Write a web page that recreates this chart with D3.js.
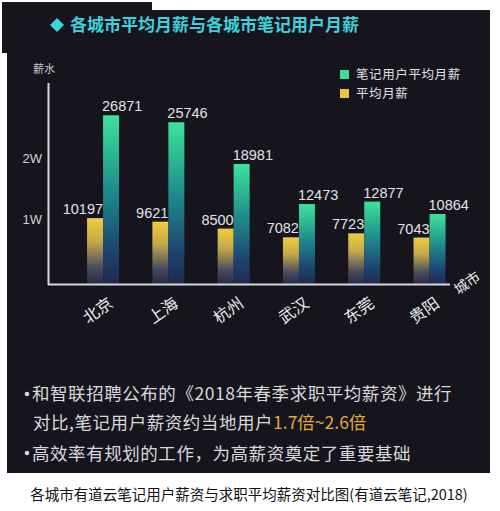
<!DOCTYPE html>
<html><head><meta charset="utf-8">
<script src="https://cdn.jsdelivr.net/npm/d3@7/dist/d3.min.js"></script>
<style>
html,body{margin:0;padding:0;background:#fff;}
svg{display:block;}
</style></head>
<body>
<svg id="c" width="500" height="511"></svg>
<script>
const cities = ["北京","上海","杭州","武汉","东莞","贵阳"];
const noteUserSalary = [26871,25746,18981,12473,12877,10864];
const avgSalary = [10197,9621,8500,7082,7723,7043];
const seriesNames = ["笔记用户平均月薪","平均月薪"];
const yTicks = [10000,20000];
const yTickLabels = ["1W","2W"];
const titleText = "各城市平均月薪与各城市笔记用户月薪";
const yAxisTitle = "薪水";
const xAxisTitle = "城市";
const noteLine1 = "和智联招聘公布的《2018年春季求职平均薪资》进行";
const noteLine2a = "对比,笔记用户薪资约当地用户";
const noteLine2b = "1.7倍~2.6倍";
const noteLine3 = "高效率有规划的工作，为高薪资奠定了重要基础";
const caption = "各城市有道云笔记用户薪资与求职平均薪资对比图(有道云笔记,2018)";

const svg = d3.select("#c");
const font = "'Noto Sans CJK SC','Noto Sans',sans-serif";

// background panels
svg.append("rect").attr("x",2).attr("y",2).attr("width",150).attr("height",10).attr("fill","#17161e");
svg.append("rect").attr("x",2).attr("y",10).attr("width",488).attr("height",43).attr("fill","#16151d");
svg.append("rect").attr("x",7).attr("y",52).attr("width",483).attr("height",421).attr("fill","#16151d");

const defs = svg.append("defs");
const gG = defs.append("linearGradient").attr("id","gG").attr("x1",0).attr("y1",0).attr("x2",0).attr("y2",1);
gG.append("stop").attr("offset","0%").attr("stop-color","#3de39b");
gG.append("stop").attr("offset","45%").attr("stop-color","#1f8a8c");
gG.append("stop").attr("offset","80%").attr("stop-color","#1d4470");
gG.append("stop").attr("offset","100%").attr("stop-color","#1f2a4c");
const gY = defs.append("linearGradient").attr("id","gY").attr("x1",0).attr("y1",0).attr("x2",0).attr("y2",1);
gY.append("stop").attr("offset","0%").attr("stop-color","#f2cc3c");
gY.append("stop").attr("offset","35%").attr("stop-color","#c4aa4a");
gY.append("stop").attr("offset","75%").attr("stop-color","#4a4b5e");
gY.append("stop").attr("offset","100%").attr("stop-color","#262a44");

// title
svg.append("path").attr("d","M57,18 L64,25 L57,32 L50,25 Z").attr("fill","#3ed3e0");
svg.append("text").attr("x",70).attr("y",31).attr("fill","#3fd0dc")
  .attr("font-family",font).attr("font-size",17).attr("font-weight","bold").text(titleText);

// scales
const y = d3.scaleLinear().domain([0,30000]).range([281,96]);
const x0 = d3.scaleBand().domain(cities).range([70.4,462.2]).paddingInner(0.51).paddingOuter(0.255);
const x1 = d3.scaleBand().domain([0,1]).range([0,x0.bandwidth()]);

// bars
const g = svg.append("g");
cities.forEach((c,i)=>{
  const xa = x0(c)+x1(0), xb = x0(c)+x1(1), w = x1.bandwidth();
  g.append("rect").attr("x",xa).attr("y",y(avgSalary[i])).attr("width",w)
    .attr("height",284-y(avgSalary[i])).attr("fill","url(#gY)");
  g.append("rect").attr("x",xb).attr("y",y(noteUserSalary[i])).attr("width",w)
    .attr("height",284-y(noteUserSalary[i])).attr("fill","url(#gG)");
  g.append("text").attr("x",xa+w).attr("y",y(avgSalary[i])-4).attr("text-anchor","end")
    .attr("fill","#e2e2e6").attr("font-family","'Liberation Sans',Arial,sans-serif").attr("font-size",14.5).text(avgSalary[i]);
  g.append("text").attr("x",xb-1).attr("y",y(noteUserSalary[i])-4).attr("text-anchor","start")
    .attr("fill","#e2e2e6").attr("font-family","'Liberation Sans',Arial,sans-serif").attr("font-size",14.5).text(noteUserSalary[i]);
  const cx = x0(c)+x0.bandwidth()/2;
  g.append("text").attr("transform",`translate(${cx-2},${315}) rotate(-35)`).attr("text-anchor","middle")
    .attr("fill","#ececef").attr("font-family",font).attr("font-size",16).text(c);
});

// axes
svg.append("line").attr("x1",48.5).attr("y1",83).attr("x2",48.5).attr("y2",285).attr("stroke","#d8d8dc").attr("stroke-width",2);
svg.append("line").attr("x1",48).attr("y1",284.5).attr("x2",450).attr("y2",284.5).attr("stroke","#d8d8dc").attr("stroke-width",2);
yTicks.forEach((t,i)=>{
  svg.append("text").attr("x",42).attr("y",y(t)+5).attr("text-anchor","end")
    .attr("fill","#d0d0d6").attr("font-family","'Liberation Sans',Arial,sans-serif").attr("font-size",13).text(yTickLabels[i]);
});
svg.append("text").attr("x",44).attr("y",73).attr("text-anchor","middle").attr("fill","#c8c8ce")
  .attr("font-family",font).attr("font-size",11).text(yAxisTitle);
svg.append("text").attr("transform","translate(470,287) rotate(-35)").attr("text-anchor","middle")
  .attr("fill","#ececef").attr("font-family",font).attr("font-size",14).text(xAxisTitle);

// legend
const lg = svg.append("g");
[["#3ddc98",seriesNames[0]],["#eac63e",seriesNames[1]]].forEach((d,i)=>{
  lg.append("rect").attr("x",340).attr("y",70+i*19).attr("width",9).attr("height",9).attr("fill",d[0]);
  lg.append("text").attr("x",356).attr("y",79+i*19).attr("fill","#e0e0e4").attr("font-family",font)
    .attr("font-size",12.5).attr("letter-spacing",0.6).text(d[1]);
});

// notes
const nf = 17.5;
svg.append("circle").attr("cx",27).attr("cy",394).attr("r",2.3).attr("fill","#d8d8dc");
svg.append("text").attr("x",32).attr("y",400).attr("fill","#d8d8dc").attr("font-family",font)
  .attr("font-size",nf).attr("letter-spacing",0.55).text(noteLine1);
const t2 = svg.append("text").attr("x",33).attr("y",429).attr("font-family",font).attr("font-size",nf).attr("letter-spacing",0.55);
t2.append("tspan").attr("fill","#d8d8dc").text(noteLine2a);
t2.append("tspan").attr("fill","#e2a83a").attr("letter-spacing",0).text(noteLine2b);
svg.append("circle").attr("cx",27).attr("cy",453).attr("r",2.3).attr("fill","#d8d8dc");
svg.append("text").attr("x",32).attr("y",460).attr("fill","#d8d8dc").attr("font-family",font)
  .attr("font-size",nf).attr("letter-spacing",0.55).text(noteLine3);

// caption
svg.append("text").attr("x",249).attr("y",500).attr("text-anchor","middle").attr("fill","#111")
  .attr("font-family",font).attr("font-size",14.5).attr("letter-spacing",0).text(caption);
</script>
</body></html>
